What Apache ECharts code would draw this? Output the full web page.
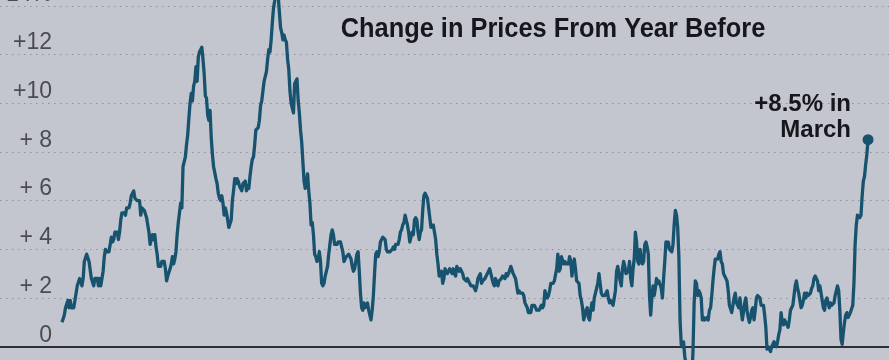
<!DOCTYPE html>
<html>
<head>
<meta charset="utf-8">
<script src="https://cdn.jsdelivr.net/npm/echarts@6/dist/echarts.min.js"></script>
<style>
  html, body { margin: 0; padding: 0; background: #c3c6ce; }
  #chart { width: 889px; height: 360px; }
</style>
</head>
<body>
<div id="chart"></div>
<script>
// Monthly year-over-year change in consumer prices, percent, starting January 1965
const startYear = 1965;
const cpiYoY = [
  1.0, 1.0, 1.3, 1.6, 1.6, 1.9, 1.6, 1.9, 1.6, 1.6, 1.6, 1.9,   // 1965
  1.9, 2.5, 2.5, 2.8, 2.8, 2.5, 2.8, 3.5, 3.5, 3.8, 3.8, 3.5,   // 1966
  3.5, 2.8, 2.8, 2.5, 2.8, 2.8, 2.8, 2.5, 2.8, 2.5, 2.8, 3.1,   // 1967
  3.7, 4.0, 3.9, 3.9, 3.9, 4.2, 4.5, 4.3, 4.4, 4.7, 4.7, 4.7,   // 1968
  4.4, 4.7, 5.2, 5.5, 5.5, 5.5, 5.4, 5.7, 5.7, 5.7, 5.9, 6.2,   // 1969
  6.2, 6.4, 6.1, 6.1, 6.0, 6.0, 6.0, 5.4, 5.7, 5.7, 5.6, 5.6,   // 1970
  5.3, 5.0, 4.7, 4.2, 4.4, 4.6, 4.4, 4.6, 4.1, 3.8, 3.3, 3.3,   // 1971
  3.3, 3.5, 3.5, 3.5, 3.2, 2.7, 2.9, 2.9, 3.2, 3.4, 3.7, 3.4,   // 1972
  3.6, 3.9, 4.6, 5.1, 5.5, 5.9, 5.7, 7.4, 7.4, 7.8, 8.3, 8.7,   // 1973
  9.4, 10.0, 10.4, 10.1, 10.7, 10.9, 11.5, 10.9, 11.9, 12.1, 12.2, 12.3, // 1974
  11.8, 11.2, 10.3, 10.2, 9.5, 9.3, 9.7, 8.6, 7.9, 7.4, 7.4, 6.9, // 1975
  6.7, 6.3, 6.1, 6.0, 6.2, 5.9, 5.4, 5.7, 5.5, 5.5, 4.9, 4.9,   // 1976
  5.2, 6.0, 6.4, 6.9, 6.7, 6.9, 6.8, 6.6, 6.6, 6.4, 6.7, 6.7,   // 1977
  6.8, 6.4, 6.6, 6.5, 7.0, 7.4, 7.7, 7.8, 8.3, 8.9, 8.9, 9.0,   // 1978
  9.3, 9.9, 10.1, 10.5, 10.9, 10.9, 11.3, 11.8, 12.2, 12.1, 12.6, 13.3, // 1979
  13.9, 14.2, 14.8, 14.7, 14.4, 14.4, 13.1, 12.9, 12.6, 12.8, 12.6, 12.5, // 1980
  11.8, 11.4, 10.5, 10.0, 9.8, 9.6, 10.8, 10.8, 11.0, 10.1, 9.6, 8.9, // 1981
  8.4, 7.6, 6.8, 6.5, 6.7, 7.1, 6.4, 5.9, 5.0, 5.1, 4.6, 3.8,   // 1982
  3.7, 3.5, 3.6, 3.9, 3.5, 2.6, 2.5, 2.6, 2.9, 2.9, 3.3, 3.8,   // 1983
  4.2, 4.6, 4.8, 4.6, 4.2, 4.2, 4.2, 4.3, 4.3, 4.3, 4.1, 3.9,   // 1984
  3.5, 3.5, 3.7, 3.7, 3.8, 3.8, 3.6, 3.3, 3.1, 3.2, 3.5, 3.8,   // 1985
  3.9, 3.1, 2.2, 1.6, 1.5, 1.8, 1.6, 1.6, 1.8, 1.5, 1.3, 1.1,   // 1986
  1.5, 2.1, 3.0, 3.8, 3.9, 3.7, 3.9, 4.3, 4.4, 4.5, 4.5, 4.4,   // 1987
  4.0, 3.9, 3.9, 3.9, 3.9, 4.0, 4.1, 4.0, 4.2, 4.2, 4.2, 4.4,   // 1988
  4.7, 4.8, 5.0, 5.1, 5.4, 5.2, 5.0, 4.7, 4.3, 4.5, 4.7, 4.6,   // 1989
  5.2, 5.3, 5.2, 4.7, 4.4, 4.7, 4.8, 5.6, 6.2, 6.3, 6.3, 6.1,   // 1990
  5.7, 5.3, 4.9, 4.9, 5.0, 4.7, 4.4, 3.8, 3.4, 2.9, 3.0, 3.1,   // 1991
  2.6, 2.8, 3.2, 3.2, 3.0, 3.1, 3.2, 3.1, 3.0, 3.2, 3.0, 2.9,   // 1992
  3.3, 3.2, 3.1, 3.2, 3.2, 3.0, 2.8, 2.8, 2.7, 2.8, 2.7, 2.7,   // 1993
  2.5, 2.5, 2.5, 2.4, 2.3, 2.5, 2.8, 2.9, 3.0, 2.6, 2.7, 2.7,   // 1994
  2.8, 2.9, 2.9, 3.1, 3.2, 3.0, 2.8, 2.6, 2.5, 2.8, 2.6, 2.5,   // 1995
  2.7, 2.7, 2.8, 2.9, 2.9, 2.8, 3.0, 2.9, 3.0, 3.0, 3.3, 3.3,   // 1996
  3.0, 3.0, 2.8, 2.5, 2.2, 2.3, 2.2, 2.2, 2.2, 2.1, 1.8, 1.7,   // 1997
  1.6, 1.4, 1.4, 1.4, 1.7, 1.7, 1.7, 1.6, 1.5, 1.5, 1.5, 1.6,   // 1998
  1.7, 1.6, 1.7, 2.3, 2.1, 2.0, 2.1, 2.3, 2.6, 2.6, 2.6, 2.7,   // 1999
  2.7, 3.2, 3.8, 3.1, 3.2, 3.7, 3.7, 3.4, 3.5, 3.4, 3.4, 3.4,   // 2000
  3.7, 3.5, 2.9, 3.3, 3.6, 3.2, 2.7, 2.7, 2.6, 2.1, 1.9, 1.6,   // 2001
  1.1, 1.1, 1.5, 1.6, 1.2, 1.1, 1.5, 1.8, 1.5, 2.0, 2.2, 2.4,   // 2002
  2.6, 3.0, 3.0, 2.2, 2.1, 2.1, 2.1, 2.2, 2.3, 2.0, 1.8, 1.9,   // 2003
  1.9, 1.7, 1.7, 2.3, 3.1, 3.3, 3.0, 2.7, 2.5, 3.2, 3.5, 3.3,   // 2004
  3.0, 3.0, 3.1, 3.5, 2.8, 2.5, 3.2, 3.6, 4.7, 4.3, 3.5, 3.4,   // 2005
  4.0, 3.6, 3.4, 3.5, 4.2, 4.3, 4.1, 3.8, 2.1, 1.3, 2.0, 2.5,   // 2006
  2.1, 2.4, 2.8, 2.6, 2.7, 2.7, 2.4, 2.0, 2.8, 3.5, 4.3, 4.1,   // 2007
  4.3, 4.0, 4.0, 3.9, 4.2, 5.0, 5.6, 5.4, 4.9, 3.7, 1.1, 0.1,   // 2008
  0.0, 0.2, -0.4, -0.7, -1.3, -1.4, -2.1, -1.5, -1.3, -0.2, 1.8, 2.7, // 2009
  2.6, 2.1, 2.3, 2.2, 2.0, 1.1, 1.2, 1.1, 1.1, 1.2, 1.1, 1.5,   // 2010
  1.6, 2.1, 2.7, 3.2, 3.6, 3.6, 3.6, 3.8, 3.9, 3.5, 3.4, 3.0,   // 2011
  2.9, 2.9, 2.7, 2.3, 1.7, 1.7, 1.4, 1.7, 2.0, 2.2, 1.8, 1.7,   // 2012
  1.6, 2.0, 1.5, 1.1, 1.4, 1.8, 2.0, 1.5, 1.2, 1.0, 1.2, 1.5,   // 2013
  1.6, 1.1, 1.5, 2.0, 2.1, 2.1, 2.0, 1.7, 1.7, 1.7, 1.3, 0.8,   // 2014
  -0.1, 0.0, -0.1, -0.2, 0.0, 0.1, 0.2, 0.2, 0.0, 0.2, 0.5, 0.7, // 2015
  1.4, 1.0, 0.9, 1.1, 1.0, 1.0, 0.8, 1.1, 1.5, 1.6, 1.7, 2.1,   // 2016
  2.5, 2.7, 2.4, 2.2, 1.9, 1.6, 1.7, 1.9, 2.2, 2.0, 2.2, 2.1,   // 2017
  2.1, 2.2, 2.4, 2.5, 2.8, 2.9, 2.9, 2.7, 2.3, 2.5, 2.2, 1.9,   // 2018
  1.6, 1.5, 1.9, 2.0, 1.8, 1.6, 1.8, 1.7, 1.7, 1.8, 2.1, 2.3,   // 2019
  2.5, 2.3, 1.5, 0.3, 0.1, 0.6, 1.0, 1.3, 1.4, 1.2, 1.2, 1.4,   // 2020
  1.4, 1.7, 2.6, 4.2, 5.0, 5.4, 5.4, 5.3, 5.4, 6.2, 6.8, 7.0,   // 2021
  7.5, 7.9, 8.5                                                  // 2022
];
const yTicks = [0, 2, 4, 6, 8, 10, 12, 14];
const yTickLabels = ['0', '+ 2', '+ 4', '+ 6', '+ 8', '+10', '+12', '+14%'];
const titleText = 'Change in Prices From Year Before';
const annotationText = '+8.5% in\nMarch';
// visible time window (years) across the full chart width
const xMin = 1960.603;
const xMax = 2023.653;

const lineData = cpiYoY.map((v, i) => [startYear + i / 12, v]);
const lastPoint = lineData[lineData.length - 1];

const chart = echarts.init(document.getElementById('chart'), null, { renderer: 'canvas' });
chart.setOption({
  backgroundColor: '#c3c6ce',
  animation: false,
  grid: { left: 0, right: 0, top: 5.8, bottom: 13.3, containLabel: false, outerBoundsMode: 'none' },
  xAxis: {
    type: 'value', min: xMin, max: xMax,
    axisLine: { show: true, onZero: false, lineStyle: { color: '#2e3035', width: 2 } },
    axisTick: { show: false }, axisLabel: { show: false }, splitLine: { show: false }
  },
  yAxis: {
    type: 'value', min: 0, max: 14, interval: 2,
    axisLine: { show: false }, axisTick: { show: false },
    axisLabel: {
      inside: true, margin: 52, align: 'right', verticalAlign: 'bottom',
      color: '#4a4c52', fontSize: 23, fontFamily: 'Liberation Sans, Arial, sans-serif',
      formatter: (v) => { const k = yTicks.indexOf(v); return k >= 0 ? yTickLabels[k] : ''; }
    },
    splitLine: {
      show: true,
      lineStyle: { color: '#8e929a', width: 1.2, type: [1.5, 4.5] }
    }
  },
  series: [
    {
      type: 'line', data: lineData, showSymbol: false, clip: false,
      lineStyle: { color: '#17536f', width: 3.3, join: 'round' },
      z: 3
    },
    {
      type: 'scatter', data: [lastPoint], symbolSize: 11, clip: false,
      itemStyle: { color: '#17536f', opacity: 1 }, z: 4
    }
  ],
  graphic: [
    {
      type: 'text', x: 553, y: 30, scaleX: 0.94,
      style: {
        text: titleText, fill: '#15171c', align: 'center', verticalAlign: 'middle',
        font: 'bold 27px "Liberation Sans", Arial, sans-serif'
      }, z: 10
    },
    {
      type: 'text', x: 851, y: 92,
      style: {
        text: annotationText, fill: '#15171c', align: 'right', verticalAlign: 'top',
        font: 'bold 24px "Liberation Sans", Arial, sans-serif', lineHeight: 25.5
      }, z: 10
    }
  ]
});
</script>
</body>
</html>
